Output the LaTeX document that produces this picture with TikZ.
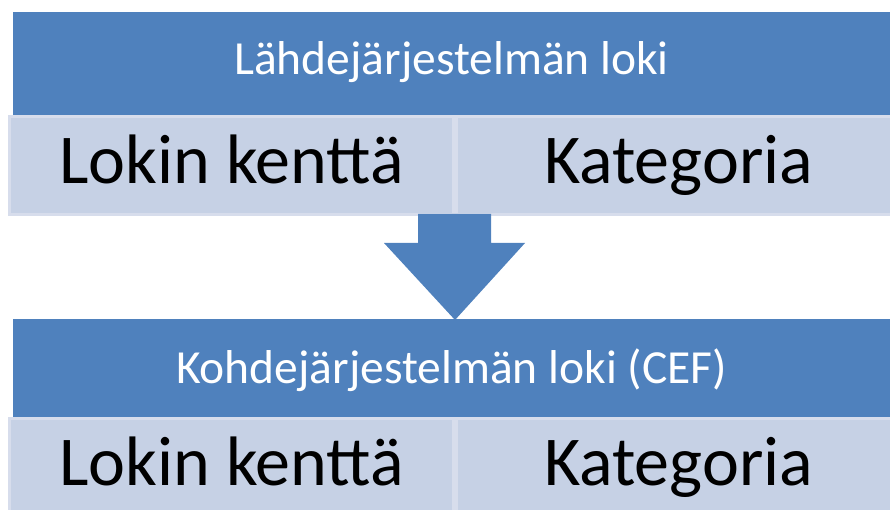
\documentclass[tikz,border=0pt]{standalone}
\usepackage{fontspec}
\setmainfont{Carlito}
\usetikzlibrary{positioning}
\definecolor{hdrblue}{HTML}{4F81BD}
\definecolor{cellfill}{HTML}{C6D1E5}
\definecolor{cellline}{HTML}{D7DDEC}
\begin{document}
\begin{tikzpicture}[x=1pt,y=-1pt,
	header/.style={fill=hdrblue, text=white, inner sep=0pt, outer sep=0pt,
		minimum width=877pt, minimum height=103pt,
		text height=33pt, text depth=10pt,
		font=\fontsize{47.5}{52}\selectfont},
	cell/.style={fill=cellfill, draw=cellline, line width=3pt, inner sep=0pt,
		outer sep=0pt, minimum width=444pt, minimum height=98pt,
		text height=52pt, text depth=16pt,
		font=\fontsize{70}{76}\selectfont}]
		\useasboundingbox (0,0) rectangle (890,510);

		% source log
		\node[header, anchor=north west] (srchdr) at (13,12) {Lähdejärjestelmän loki};
		\node[cell, anchor=north west] (srckey) at (9.5,116.5) {Lokin kenttä};
		\node[cell, right=3pt of srckey] (srccat) {Kategoria};

		% arrow between the logs
		\fill[hdrblue] (418,214) -- (491,214) -- (491,243) -- (525,243)
			-- (455,320) -- (384,243) -- (418,243) -- cycle;

		% target log
		\node[header, anchor=north west, minimum height=98pt,
			text height=36pt, text depth=6pt] (tgthdr) at (13,319)
			{Kohdejärjestelmän loki (CEF)};
		\node[cell, anchor=north west] (tgtkey) at (9.5,418.5) {Lokin kenttä};
		\node[cell, right=3pt of tgtkey] (tgtcat) {Kategoria};
	\end{tikzpicture}
\end{document}
